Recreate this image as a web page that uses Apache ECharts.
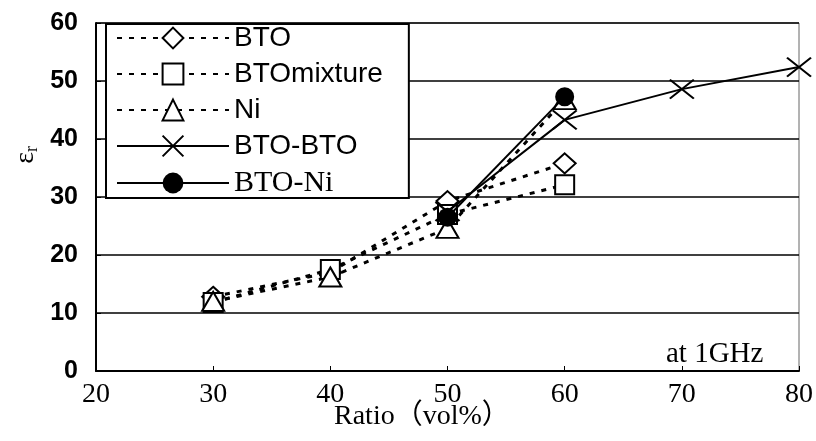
<!DOCTYPE html>
<html>
<head>
<meta charset="utf-8">
<script src="https://cdn.jsdelivr.net/npm/echarts@6/dist/echarts.min.js"></script>
<style>
  html, body { margin: 0; padding: 0; background: #fff; }
  #chartmain { width: 816px; height: 441px; }
</style>
</head>
<body>
<div id="chartmain"></div>
<script>
// data
var ratio = [30, 40, 50, 60];
var bto = [12.8, 17, 29.3, 35.8];
var btoMixture = [11.8, 17.5, 27, 32.1];
var ni = [12, 16.2, 24.6, 46.8];
var ratioBtoBto = [50, 60, 70, 80];
var btoBto = [27.5, 43.3, 48.6, 52.4];
var ratioBtoNi = [50, 60];
var btoNi = [26.5, 47.3];
var seriesNames = ['BTO', 'BTOmixture', 'Ni', 'BTO-BTO', 'BTO-Ni'];

function pairs(xs, ys) {
	var out = [];
	for (var i = 0; i < xs.length; i++) {
		out.push([xs[i], ys[i]]);
	}
	return out;
}

var crossPath = 'path://M0 0L22 17M22 0L0 17';
var dotted = { color: '#000', width: 3, type: [5, 7] };
var solid = { color: '#000', width: 2 };
var hollow = { color: '#fff', borderColor: '#000', borderWidth: 2 };

var option = {
	animation: false,
	backgroundColor: '#fff',
	grid: {
		left: 96, right: 10, top: 23, bottom: 70,
		show: true, borderColor: '#666', borderWidth: 1
	},
	legend: {
		orient: 'vertical',
		left: 106, top: 24,
		data: seriesNames,
		itemWidth: 112, itemHeight: 26, itemGap: 8,
		padding: [0, 26, 0, 10],
		backgroundColor: '#fff',
		borderColor: '#000', borderWidth: 2, borderRadius: 0,
		textStyle: {
			fontFamily: 'Liberation Sans', fontSize: 28, color: '#000', lineHeight: 28
		},
		formatter: function (name) {
			return name === 'BTO-Ni' ? '{s|' + name + '}' : name;
		},
		selectedMode: false
	},
	xAxis: {
		type: 'value', min: 20, max: 80, interval: 10,
		axisLine: { lineStyle: { color: '#000', width: 2 } },
		axisTick: { inside: true, length: 5, lineStyle: { color: '#000' } },
		axisLabel: { fontFamily: 'Liberation Serif', fontSize: 28, color: '#000', margin: 10 },
		splitLine: { show: false }
	},
	yAxis: {
		type: 'value', min: 0, max: 60, interval: 10,
		axisLine: { show: true, lineStyle: { color: '#000', width: 2 } },
		axisTick: { show: true, inside: true, length: 5, lineStyle: { color: '#000' } },
		axisLabel: { fontFamily: 'Liberation Sans', fontWeight: 'bold', fontSize: 25, color: '#000', margin: 18 },
		splitLine: { show: true, lineStyle: { color: '#000', width: 1.5 } }
	},
	graphic: [
		{
			type: 'text', left: 12, top: 146, rotation: Math.PI / 2,
			style: {
				text: '{e|ε}{r|r}',
				rich: {
					e: { fontFamily: 'Liberation Serif', fontSize: 28, fill: '#000' },
					r: { fontFamily: 'Liberation Serif', fontSize: 18, fill: '#000', padding: [12, 0, 0, 0] }
				}
			}
		},
		{
			type: 'text', left: 334, top: 403,
			style: { text: 'Ratio（vol%）', font: '28px "Liberation Serif", "Noto Sans CJK JP"', fill: '#000' }
		},
		{
			type: 'text', left: 666, top: 340,
			style: { text: 'at 1GHz', font: '29px "Liberation Serif"', fill: '#000' }
		}
	],
	series: [
		{
			name: 'BTO', type: 'line', data: pairs(ratio, bto),
			symbol: 'diamond', symbolSize: [22, 20],
			lineStyle: dotted, itemStyle: hollow, z: 3
		},
		{
			name: 'BTOmixture', type: 'line', data: pairs(ratio, btoMixture),
			symbol: 'rect', symbolSize: 19,
			lineStyle: dotted, itemStyle: hollow, z: 3
		},
		{
			name: 'Ni', type: 'line', data: pairs(ratio, ni),
			symbol: 'triangle', symbolSize: [22, 19],
			lineStyle: dotted, itemStyle: hollow, z: 3
		},
		{
			name: 'BTO-BTO', type: 'line', data: pairs(ratioBtoBto, btoBto),
			symbol: crossPath, symbolSize: [24, 19],
			lineStyle: solid, itemStyle: { color: '#000', borderColor: '#000', borderWidth: 2 }, z: 4
		},
		{
			name: 'BTO-Ni', type: 'line', data: pairs(ratioBtoNi, btoNi),
			symbol: 'circle', symbolSize: 19,
			lineStyle: solid, itemStyle: { color: '#000' }, z: 5
		}
	]
};
option.legend.textStyle.rich = {
	s: { fontFamily: 'Liberation Serif', fontSize: 30, color: '#000', lineHeight: 28 }
};

var myChart = echarts.init(document.getElementById('chartmain'));
myChart.setOption(option);
</script>
</body>
</html>
